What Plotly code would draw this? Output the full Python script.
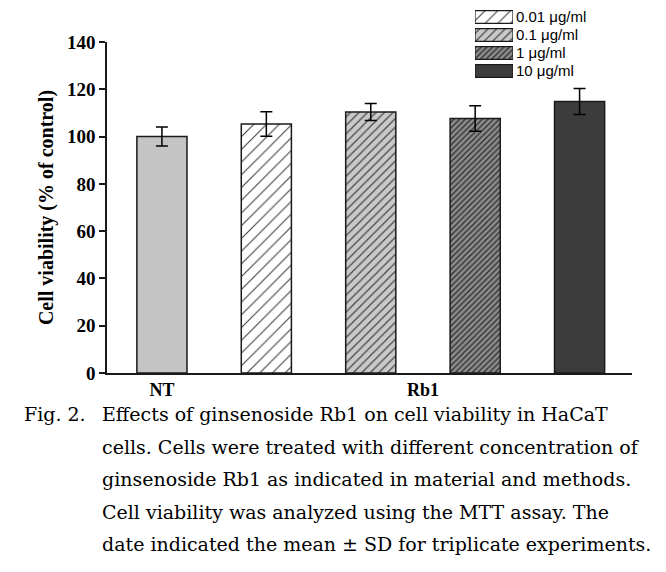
import plotly.graph_objects as go

# ---------------- data ----------------
groups = ["NT", "0.01 μg/ml", "0.1 μg/ml", "1 μg/ml", "10 μg/ml"]
x_pos = [0, 1, 2, 3, 4]
viability = [100.0, 105.3, 110.4, 107.6, 114.8]
sd = [4.0, 5.2, 3.6, 5.4, 5.5]
group_tick_pos = [0, 2.5]
group_tick_labels = ["NT", "Rb1"]
y_ticks = [0, 20, 40, 60, 80, 100, 120, 140]
legend_labels = groups[1:]
caption_lines = [
    "Effects of ginsenoside Rb1 on cell viability in HaCaT",
    "cells. Cells were treated with different concentration of",
    "ginsenoside Rb1 as indicated in material and methods.",
    "Cell viability was analyzed using the MTT assay. The",
    "date indicated the mean ± SD for triplicate experiments.",
]

# ---------------- styles ----------------
bg_colors = ["#c4c4c4", "#ffffff", "#c9c9c9", "#8c8c8c", "#3c3c3c"]
fg_colors = ["#c4c4c4", "#404040", "#454545", "#2a2a2a", "#3c3c3c"]
shapes = ["", "/", "/", "/", ""]
pat_size = [8, 9, 6, 4, 8]
pat_solid = [0.2, 0.12, 0.2, 0.3, 0.2]

OFF = 8  # page body margin of the html page
W, H = 666, 572
PLOT_L, PLOT_R, PLOT_T, PLOT_B = 107 - OFF, 632 - OFF, 42 - OFF, 373 - OFF
ML, MR, MT, MB = PLOT_L, W - PLOT_R, 0, H - PLOT_B
PW = W - ML - MR
PH = H - MT - MB


def px_x(px):
    return (px - OFF - ML) / PW


def px_y(py):
    return (H - MB - (py - OFF)) / PH


serif = "Liberation Serif"
cap_font = "DejaVu Serif"


def marker_for(i, lw):
    m = dict(color=bg_colors[i], line=dict(color="#1a1a1a", width=lw))
    if shapes[i]:
        m["pattern"] = dict(shape=shapes[i], fgcolor=fg_colors[i], bgcolor=bg_colors[i],
                            size=pat_size[i], solidity=pat_solid[i], fillmode="replace")
    return m


fig = go.Figure()

for i in range(len(groups)):
    fig.add_trace(go.Bar(
        x=[x_pos[i]], y=[viability[i]], width=0.48,
        error_y=dict(type="data", array=[sd[i]], visible=True, color="black",
                     thickness=1.5, width=6),
        marker=marker_for(i, 1.5),
        showlegend=False, hoverinfo="skip",
    ))

# legend drawn as a small bar chart on its own axes
for j, lab in enumerate(legend_labels):
    i = j + 1
    fig.add_trace(go.Bar(
        y=[lab], x=[1], orientation="h", width=0.7,
        xaxis="x2", yaxis="y2",
        marker=marker_for(i, 1.2),
        showlegend=False, hoverinfo="skip",
    ))

fig.update_layout(
    width=W, height=H,
    margin=dict(l=ML, r=MR, t=MT, b=MB, autoexpand=False),
    paper_bgcolor="white", plot_bgcolor="white",
    showlegend=False, barmode="overlay",
    xaxis=dict(
        domain=[0, 1], range=[-0.526, 4.502], automargin=False,
        showline=True, linecolor="#1a1a1a", linewidth=1.5,
        showgrid=False, zeroline=False, ticks="",
        tickmode="array", tickvals=group_tick_pos, ticktext=group_tick_labels,
        tickfont=dict(family=serif, size=18, color="black", weight="bold"),
    ),
    yaxis=dict(
        domain=[0, px_y(42)], range=[0, 140], automargin=False,
        showline=True, linecolor="#1a1a1a", linewidth=1.5,
        showgrid=False, zeroline=False,
        ticks="outside", ticklen=6, tickwidth=1.5, tickcolor="#1a1a1a",
        tickmode="array", tickvals=y_ticks,
        tickfont=dict(family=serif, size=19, color="black", weight="bold"),
        title=dict(text="Cell viability (% of control)", standoff=8,
                   font=dict(family=serif, size=20, color="black", weight="bold")),
    ),
    xaxis2=dict(domain=[px_x(475), px_x(513)], anchor="y2", range=[0, 1],
                visible=False, fixedrange=True, automargin=False),
    yaxis2=dict(domain=[px_y(80), px_y(8)], anchor="x2", side="right",
                automargin=False,
                categoryorder="array", categoryarray=legend_labels,
                tickmode="array", tickvals=legend_labels, ticktext=legend_labels,
                autorange="reversed", showline=False, showgrid=False,
                zeroline=False, ticks="", ticklabelstandoff=2,
                tickfont=dict(family="Liberation Sans", size=15, color="black")),
)

annotations = [dict(
    text="Fig. 2.", xref="paper", yref="paper", x=px_x(22), y=px_y(414),
    xanchor="left", yanchor="middle", showarrow=False,
    font=dict(family=cap_font, size=19, color="black"),
)]
for i, line in enumerate(caption_lines):
    annotations.append(dict(
        text=line, xref="paper", yref="paper", x=px_x(100), y=px_y(414 + 32.5 * i),
        xanchor="left", yanchor="middle", showarrow=False,
        font=dict(family=cap_font, size=19, color="black"),
    ))
fig.update_layout(annotations=annotations)

fig.write_html("out.html")
